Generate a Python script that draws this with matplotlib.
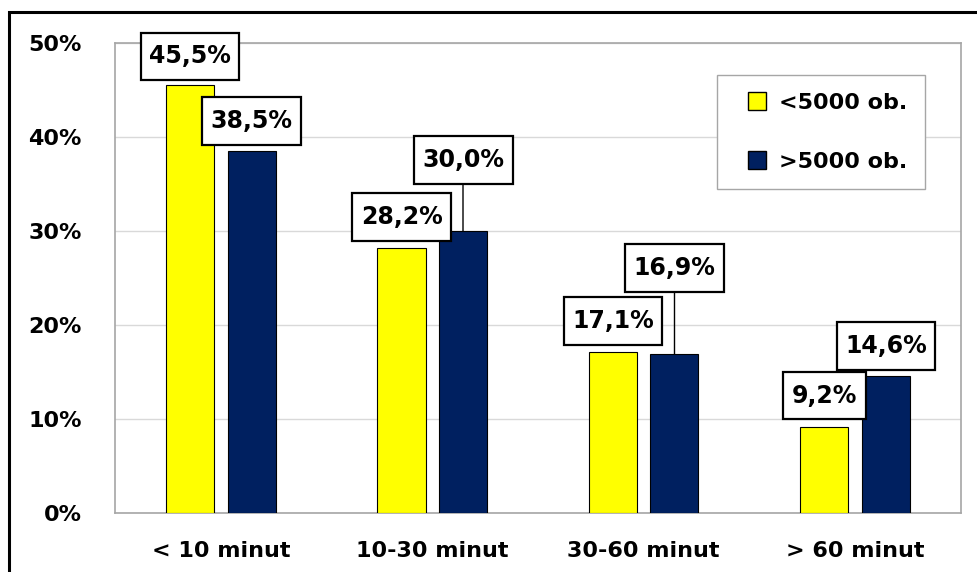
import matplotlib
matplotlib.use("Agg")
import matplotlib.pyplot as plt
import matplotlib.patches as mpatches
from matplotlib.lines import Line2D
from matplotlib.path import Path
import numpy as np

# === DATA ===
categories = ["< 10 minut", "10-30 minut", "30-60 minut", "> 60 minut"]
small_towns = [45.5, 28.2, 17.1, 9.2]     # <5000 ob.
large_towns = [38.5, 30.0, 16.9, 14.6]    # >5000 ob.
series_names = ["<5000 ob.", ">5000 ob."]

# label box offsets above the bar top (pixels)
small_offsets = [29, 31, 31, 31]
large_offsets = [30, 71, 86, 30]

YELLOW = "#FFFF00"
NAVY = "#002060"
FS = 16
LFS = 17

plt.rcParams["font.family"] = ["DejaVu Sans"]
plt.rcParams["font.weight"] = "bold"

fig = plt.figure(figsize=(9.78, 5.72), dpi=100)
ax = fig.add_axes([0.1176, 0.1031, 0.8650, 0.8217])

x = np.arange(len(categories))
width = 0.227
shift = 0.1454

bars_a = ax.bar(x - shift, small_towns, width, color=YELLOW, edgecolor="black", linewidth=0.8, zorder=3)
bars_b = ax.bar(x + shift, large_towns, width, color=NAVY, edgecolor="black", linewidth=0.8, zorder=3)

ax.set_xlim(-0.5, len(categories) - 0.5)
ax.set_ylim(0, 50)
ax.set_yticks(np.arange(0, 51, 10))
ax.set_yticklabels([f"{v}%" for v in range(0, 51, 10)], fontsize=FS, fontweight="bold")
ax.set_xticks(x)
ax.set_xticklabels(categories, fontsize=FS, fontweight="bold")
ax.tick_params(axis="both", length=0)
ax.tick_params(axis="y", pad=24)
ax.tick_params(axis="x", pad=20)

ax.grid(axis="y", color="#D9D9D9", linewidth=1, zorder=0)
for s in ax.spines.values():
    s.set_color("#A6A6A6")
    s.set_linewidth(1.2)


def label_box(x0, y0, width, height, mutation_size):
    # rectangle with more padding above/below than left/right
    px = 0.36 * mutation_size
    py = 0.5 * mutation_size
    x0, y0 = x0 - px, y0 - py
    x1, y1 = x0 + width + 2 * px, y0 + height + 2 * py
    return Path([(x0, y0), (x1, y0), (x1, y1), (x0, y1), (x0, y0)], closed=True)


def fmt(v):
    return f"{v:.1f}%".replace(".", ",")


def add_labels(bars, values, offsets):
    for b, v, off in zip(bars, values, offsets):
        props = None
        if off > 50:
            props = dict(arrowstyle="-", color="black", lw=1, shrinkA=0, shrinkB=0)
        ax.annotate(fmt(v), xy=(b.get_x() + b.get_width() / 2, v),
                    xytext=(0, off), textcoords="offset pixels",
                    ha="center", va="center", fontsize=LFS, fontweight="bold",
                    bbox=dict(boxstyle=label_box, fc="white", ec="black", lw=1.6),
                    arrowprops=props, zorder=5, annotation_clip=False)


add_labels(bars_a, small_towns, small_offsets)
add_labels(bars_b, large_towns, large_offsets)

handles = [Line2D([], [], ls="none", marker="s", markersize=13, markerfacecolor=YELLOW,
                  markeredgecolor="black", markeredgewidth=1),
           Line2D([], [], ls="none", marker="s", markersize=13, markerfacecolor=NAVY,
                  markeredgecolor="black", markeredgewidth=1)]
leg = ax.legend(handles, series_names, loc="upper right", bbox_to_anchor=(0.9574, 0.932),
                borderaxespad=0, fancybox=False, framealpha=1, edgecolor="#A6A6A6",
                prop=dict(size=FS, weight="bold"), handlelength=2.0, handleheight=0.75,
                handletextpad=0.0, labelspacing=1.75, borderpad=0.8)
leg.get_frame().set_linewidth(1)
leg.set_zorder(6)

# outer chart frame (cut by the image at right and bottom)
frame = mpatches.Rectangle((0.0092, -0.1), 1.2, 1.079, transform=fig.transFigure,
                           fill=False, edgecolor="black", linewidth=2.2, clip_on=False)
fig.patches.append(frame)

fig.savefig("out.png", dpi=100)
